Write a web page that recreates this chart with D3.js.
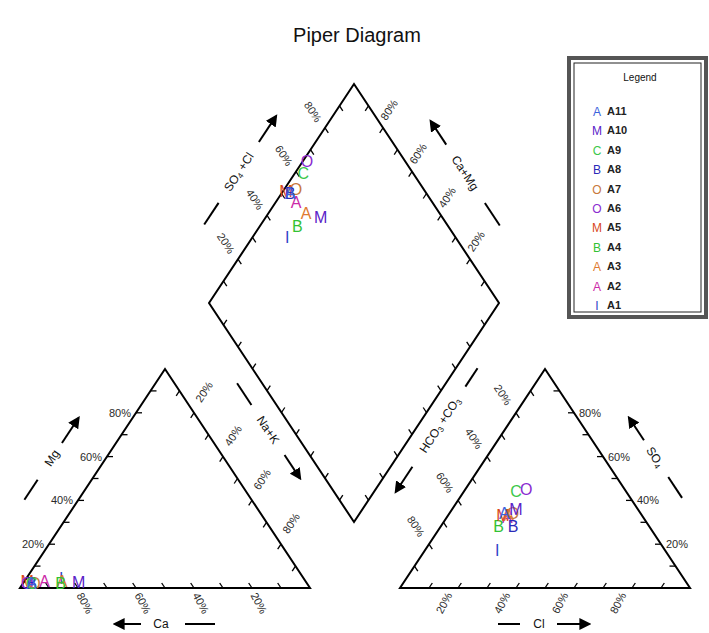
<!DOCTYPE html>
<html>
<head>
<meta charset="utf-8">
<script src="https://cdn.jsdelivr.net/npm/d3@7"></script>
<style>
body { margin: 0; background: #fff; }
svg { font-family: "Liberation Sans", Arial, sans-serif; }
</style>
</head>
<body>
<div class="chart"></div>
<script>
// samples (percent of meq)
const samples = ["A1", "A2", "A3", "A4", "A5", "A6", "A7", "A8", "A9", "A10", "A11"];
const symbols = ["I", "A", "A", "B", "M", "O", "O", "B", "C", "M", "A"];
const colors = ["#3345c8", "#cc2aa8", "#e07a30", "#33c233", "#d8481c", "#8a2bd0", "#c8783c", "#2a2ab8", "#3cc84a", "#5a22c8", "#3a62dc"];
const mg  = [4.5, 3, 3, 2, 3, 2, 2, 2, 2, 2.5, 2];
const nak = [12, 7, 13, 13, 1, 1.5, 4, 3, 3, 19, 3];
const so4 = [17, 32, 33, 28, 33, 45, 34, 28, 44, 36, 34];
const cl  = [25, 21, 21, 20, 19, 21, 22, 25, 18, 22, 19];
const tickLabels = [20, 40, 60, 80];
const minorTicks = [10, 20, 30, 40, 50, 60, 70, 80, 90];

makeSVG();

function makeSVG() {
    const svgwidth = 709;
    const svgheight = 633;

    const svg = d3.select(".chart").append("svg")
        .attr("width", svgwidth)
        .attr("height", svgheight);

    // ternary scales: side along the base, rise = triangle height
    const side = d3.scaleLinear().domain([0, 100]).range([0, 290]);
    const rise = d3.scaleLinear().domain([0, 100]).range([0, 219]);

    const cation = (na, m) => [20 + side(na) + side(m) / 2, 588 - rise(m)];
    const anion = (c, s) => [400 + side(c) + side(s) / 2, 588 - rise(s)];
    const diamond = (n, s) => [209 + side(n + s) / 2, 303 - rise(s - n)];

    const line = d3.line();

    // outlines
    const shapes = [
        [cation(0, 0), cation(100, 0), cation(0, 100)],
        [anion(0, 0), anion(100, 0), anion(0, 100)],
        [diamond(0, 0), diamond(0, 100), diamond(100, 100), diamond(100, 0)]
    ];
    svg.append("g").selectAll("path")
        .data(shapes)
        .enter()
        .append("path")
        .attr("d", d => line(d) + "Z")
        .attr("fill", "none")
        .attr("stroke", "#000")
        .attr("stroke-width", 2)
        .attr("stroke-linejoin", "miter");

    // edges: f(t,u) -> point at edge value t, moved u inwards
    const edges = [
        {f: (t, u) => cation(u, t), dx: -5, dy: 0, rot: 0, anchor: "end"},
        {f: (t, u) => cation(100 - t - u, u), dx: 7, dy: 15, rot: 62, anchor: "middle"},
        {f: (t, u) => cation(t, 100 - t - u), dx: 10, dy: -21, rot: -56.5, anchor: "middle"},
        {f: (t, u) => diamond(u, t), dx: -12, dy: -16, rot: 56.5, anchor: "middle"},
        {f: (t, u) => diamond(100 - t, 100 - u), dx: 6, dy: -18, rot: -56.5, anchor: "middle"},
        {f: (t, u) => diamond(t, u), noLabel: true},
        {f: (t, u) => diamond(100 - u, t), noLabel: true},
        {f: (t, u) => anion(u, 100 - t - u), dx: -13, dy: -18, rot: 56.5, anchor: "middle"},
        {f: (t, u) => anion(t, u), dx: -14, dy: 15, rot: -62, anchor: "middle"},
        {f: (t, u) => anion(100 - t - u, t), dx: 5, dy: 0, rot: 0, anchor: "start"}
    ];

    const tickLen = 6;
    edges.forEach(e => {
        const g = svg.append("g");
        g.selectAll("line")
            .data(minorTicks)
            .enter()
            .append("line")
            .attr("x1", t => e.f(t, 0)[0])
            .attr("y1", t => e.f(t, 0)[1])
            .attr("x2", t => {
                const p = e.f(t, 0), q = e.f(t, 10);
                const l = Math.hypot(q[0] - p[0], q[1] - p[1]);
                return p[0] + (q[0] - p[0]) / l * tickLen;
            })
            .attr("y2", t => {
                const p = e.f(t, 0), q = e.f(t, 10);
                const l = Math.hypot(q[0] - p[0], q[1] - p[1]);
                return p[1] + (q[1] - p[1]) / l * tickLen;
            })
            .attr("stroke", "#000")
            .attr("stroke-width", 1.3);
        if (e.noLabel) return;
        g.selectAll("text")
            .data(tickLabels)
            .enter()
            .append("text")
            .attr("transform", t => {
                const p = e.f(t, 0);
                return `translate(${p[0] + e.dx},${p[1] + e.dy}) rotate(${e.rot})`;
            })
            .attr("text-anchor", e.anchor)
            .attr("dominant-baseline", "central")
            .attr("font-size", 11)
            .attr("fill", "#2a2a2a")
            .text(t => t + "%");
    });

    // axis titles with arrows
    svg.append("defs").append("marker")
        .attr("id", "head")
        .attr("viewBox", "0 0 10 10")
        .attr("refX", 8).attr("refY", 5)
        .attr("markerWidth", 6).attr("markerHeight", 6)
        .attr("orient", "auto")
        .append("path")
        .attr("d", "M0,0L10,5L0,10Z")
        .attr("fill", "#000");

    const titles = [
        {parts: [["Mg"]], x: 52, y: 458, rot: -56.5, dash: [-50, -26], arrow: [18, 48]},
        {parts: [["Ca"]], x: 161, y: 624, rot: 0, dash: [24, 54], arrow: [-20, -46]},
        {parts: [["Na+K"]], x: 268, y: 430, rot: 56.5, dash: [-56, -30], arrow: [30, 58]},
        {parts: [["SO"], ["4", 1], [" +Cl"]], x: 239, y: 172, rot: -56.5, dash: [-63, -37], arrow: [36, 67]},
        {parts: [["Ca+Mg"]], x: 465, y: 173, rot: 56.5, dash: [36, 63], arrow: [-34, -62]},
        {parts: [["HCO"], ["3", 1], [" +CO"], ["3", 1]], x: 440, y: 425, rot: -56.5, dash: [46, 68], arrow: [-50, -80]},
        {parts: [["SO"], ["4", 1]], x: 655, y: 457, rot: 56.5, dash: [24, 49], arrow: [-20, -47]},
        {parts: [["Cl"]], x: 539, y: 624, rot: 0, dash: [-41, -19], arrow: [18, 50]}
    ];

    titles.forEach(d => {
        const g = svg.append("g")
            .attr("transform", `translate(${d.x},${d.y}) rotate(${d.rot})`);
        const txt = g.append("text")
            .attr("text-anchor", "middle")
            .attr("dominant-baseline", "central")
            .attr("font-size", 12)
            .attr("fill", "#111");
        let shift = 0;
        d.parts.forEach(p => {
            const sub = p[1] ? 3 : 0;
            txt.append("tspan")
                .attr("dy", sub - shift)
                .attr("font-size", p[1] ? 8 : 12)
                .text(p[0]);
            shift = sub;
        });
        g.append("line")
            .attr("x1", d.dash[0]).attr("x2", d.dash[1])
            .attr("stroke", "#000").attr("stroke-width", 2);
        g.append("line")
            .attr("x1", d.arrow[0]).attr("x2", d.arrow[1])
            .attr("stroke", "#000").attr("stroke-width", 2)
            .attr("marker-end", "url(#head)");
    });

    // sample symbols in the three fields
    const idx = d3.range(samples.length);
    const marks = svg.append("g")
        .attr("font-size", 16)
        .attr("text-anchor", "middle")
        .attr("dominant-baseline", "central");

    const plotSet = (pos) => {
        marks.append("g").selectAll("text")
            .data(idx)
            .enter()
            .append("text")
            .attr("x", i => pos(i)[0])
            .attr("y", i => pos(i)[1])
            .attr("fill", i => colors[i])
            .text(i => symbols[i]);
    };
    plotSet(i => cation(nak[i], mg[i]));
    plotSet(i => anion(cl[i], so4[i]));
    plotSet(i => diamond(nak[i], so4[i] + cl[i]));

    // title
    svg.append("text")
        .attr("x", 357)
        .attr("y", 42)
        .attr("text-anchor", "middle")
        .attr("font-size", 20)
        .attr("fill", "#111")
        .text("Piper Diagram");

    // legend
    const lg = svg.append("g");
    lg.append("rect")
        .attr("x", 569).attr("y", 58)
        .attr("width", 137).attr("height", 259)
        .attr("fill", "#fff")
        .attr("stroke", "#555").attr("stroke-width", 4);
    lg.append("rect")
        .attr("x", 574).attr("y", 63)
        .attr("width", 127).attr("height", 249)
        .attr("fill", "none")
        .attr("stroke", "#222").attr("stroke-width", 1);
    lg.append("text")
        .attr("x", 640).attr("y", 81)
        .attr("text-anchor", "middle")
        .attr("font-size", 10)
        .attr("fill", "#111")
        .text("Legend");

    const order = idx.slice().reverse();
    lg.selectAll(".sym")
        .data(order)
        .enter()
        .append("text")
        .attr("class", "sym")
        .attr("x", 597)
        .attr("y", (d, j) => 112 + j * 19.4)
        .attr("text-anchor", "middle")
        .attr("dominant-baseline", "central")
        .attr("font-size", 12)
        .attr("fill", i => colors[i])
        .text(i => symbols[i]);
    lg.selectAll(".lab")
        .data(order)
        .enter()
        .append("text")
        .attr("class", "lab")
        .attr("x", 607)
        .attr("y", (d, j) => 111 + j * 19.4)
        .attr("dominant-baseline", "central")
        .attr("font-size", 11)
        .attr("font-weight", "bold")
        .attr("fill", "#222")
        .text(i => samples[i]);
}
</script>
</body>
</html>
